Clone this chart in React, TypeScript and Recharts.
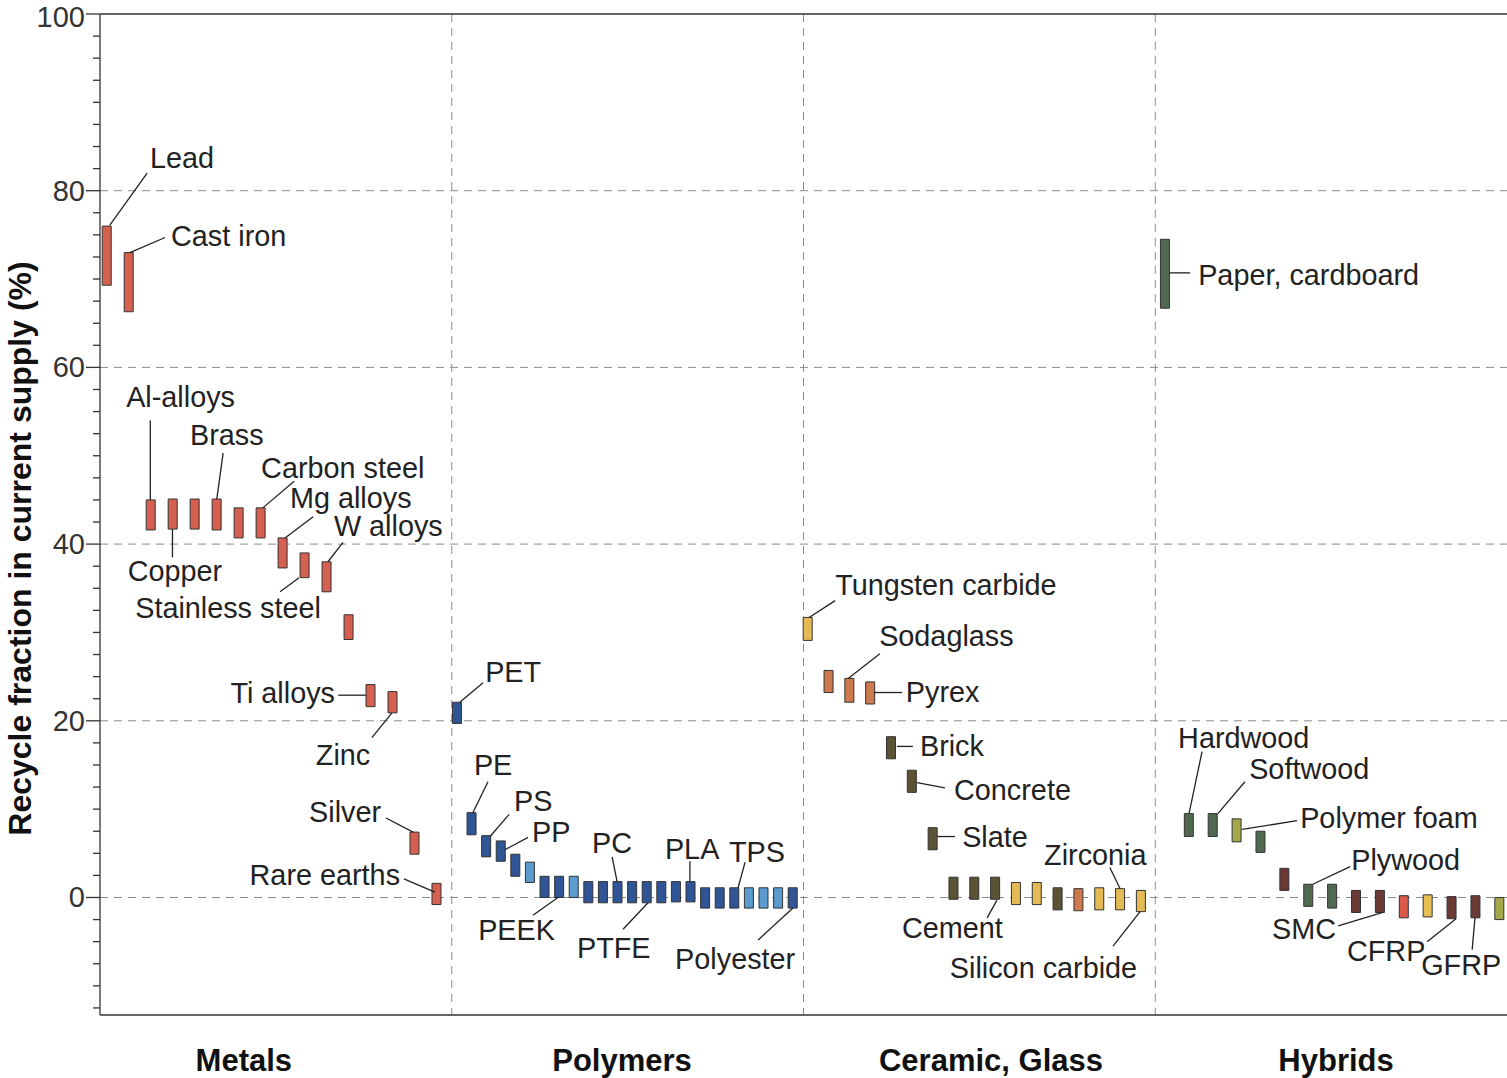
import React from 'react';
import { ComposedChart, Bar, Cell, XAxis, YAxis, CartesianGrid, ReferenceLine, ReferenceDot } from 'recharts';

const FONT = '"Liberation Sans", Arial, Helvetica, sans-serif';

// recycle fraction in current supply (%), low and high end of each bar, left to right
const metalLow = [69.3, 66.3, 41.6, 41.7, 41.7, 41.6, 40.7, 40.7, 37.3, 36.2, 34.6, 29.2, 21.6, 20.9, 4.9, -0.8];
const metalHigh = [76.0, 73.0, 45.0, 45.1, 45.1, 45.1, 44.1, 44.1, 40.7, 39.0, 38.0, 32.0, 24.1, 23.3, 7.4, 1.6];
const metalKind = ['m', 'm', 'm', 'm', 'm', 'm', 'm', 'm', 'm', 'm', 'm', 'm', 'm', 'm', 'm', 'm'];

const polymerLow = [19.7, 7.1, 4.6, 4.1, 2.4, 1.7, 0, 0, 0, -0.6, -0.6, -0.6, -0.6, -0.6, -0.6, -0.5, -0.5, -1.2, -1.2, -1.2, -1.2, -1.2, -1.2, -1.2];
const polymerHigh = [22.1, 9.6, 7.0, 6.4, 4.9, 4.0, 2.4, 2.4, 2.4, 1.8, 1.8, 1.8, 1.8, 1.8, 1.8, 1.8, 1.8, 1.1, 1.1, 1.1, 1.1, 1.1, 1.1, 1.1];
const polymerKind = ['pd', 'pd', 'pd', 'pd', 'pd', 'pl', 'pd', 'pd', 'pl', 'pd', 'pd', 'pd', 'pd', 'pd', 'pd', 'pd', 'pd', 'pd', 'pd', 'pd', 'pl', 'pl', 'pl', 'pd'];

const ceramicLow = [29.1, 23.2, 22.1, 21.9, 15.7, 11.9, 5.4, -0.2, -0.2, -0.2, -0.8, -0.8, -1.4, -1.5, -1.4, -1.4, -1.6];
const ceramicHigh = [31.7, 25.7, 24.8, 24.4, 18.2, 14.4, 7.9, 2.3, 2.3, 2.3, 1.7, 1.7, 1.1, 1.0, 1.1, 1.0, 0.8];
const ceramicKind = ['cy', 'co', 'co', 'co', 'ck', 'ck', 'ck', 'ck', 'ck', 'ck', 'cy', 'cy', 'ck', 'co', 'cy', 'cy', 'cy'];

const hybridLow = [66.7, 6.9, 6.9, 6.3, 5.1, 0.8, -1.0, -1.2, -1.7, -1.7, -2.3, -2.2, -2.4, -2.3, -2.5];
const hybridHigh = [74.5, 9.5, 9.5, 8.9, 7.5, 3.3, 1.5, 1.5, 0.8, 0.8, 0.2, 0.3, 0.1, 0.2, 0.0];
const hybridKind = ['hg', 'hg', 'hg', 'hv', 'hg', 'hb', 'hg', 'hg', 'hb', 'hb', 'hr', 'hy', 'hb', 'hb', 'hv'];

const groupNames = ['Metals', 'Polymers', 'Ceramic, Glass', 'Hybrids'];
const groupTicks = [0.409, 1.484, 2.533, 3.514];
const yTicks = [-12.5, -10, -7.5, -5, -2.5, 0, 2.5, 5, 7.5, 10, 12.5, 15, 17.5, 20, 22.5, 25, 27.5, 30, 32.5, 35, 37.5, 40,
  42.5, 45, 47.5, 50, 52.5, 55, 57.5, 60, 62.5, 65, 67.5, 70, 72.5, 75, 77.5, 80, 82.5, 85, 87.5, 90, 92.5, 95, 97.5, 100];

// label text, anchor point (x, y), text anchor, leader line x1, y1, x2, y2
const metalLabels: [string, number, number, string, number[]][] = [
  ['Lead', 0.142, 83.7, 'start', [0.028, 76.1, 0.134, 82.0]],
  ['Cast iron', 0.202, 74.9, 'start', [0.085, 73.0, 0.185, 74.7]],
  ['Al-alloys', 0.229, 56.6, 'middle', [0.143, 54.0, 0.143, 45.0]],
  ['Brass', 0.256, 52.4, 'start', [0.350, 50.3, 0.332, 45.1]],
  ['Carbon steel', 0.458, 48.6, 'start', [0.552, 47.1, 0.463, 44.1]],
  ['Mg alloys', 0.540, 45.2, 'start', [0.606, 43.1, 0.526, 40.7]],
  ['W alloys', 0.665, 42.0, 'start', [0.691, 40.2, 0.648, 38.0]],
  ['Copper', 0.213, 36.9, 'middle', [0.206, 41.7, 0.206, 38.5]],
  ['Stainless steel', 0.100, 32.8, 'start', [0.512, 34.6, 0.566, 36.2]],
  ['Ti alloys', 0.668, 23.1, 'end', [0.677, 22.9, 0.756, 22.9]],
  ['Zinc', 0.691, 16.1, 'middle', [0.773, 18.1, 0.830, 20.9]],
  ['Silver', 0.799, 9.7, 'end', [0.813, 9.0, 0.890, 7.4]],
  ['Rare earths', 0.853, 2.6, 'end', [0.864, 2.1, 0.952, 0.6]],
];
const polymerLabels: [string, number, number, string, number[]][] = [
  ['PET', 1.095, 25.5, 'start', [1.089, 24.3, 1.023, 22.1]],
  ['PE', 1.063, 15.0, 'start', [1.103, 13.1, 1.060, 9.6]],
  ['PS', 1.177, 10.9, 'start', [1.163, 9.4, 1.109, 6.9]],
  ['PP', 1.228, 7.4, 'start', [1.217, 6.8, 1.151, 5.4]],
  ['PC', 1.399, 6.2, 'start', [1.456, 4.6, 1.470, 1.8]],
  ['PLA', 1.606, 5.5, 'start', [1.677, 4.1, 1.677, 1.8]],
  ['TPS', 1.788, 5.1, 'start', [1.834, 4.0, 1.814, 1.1]],
  ['PEEK', 1.075, -3.7, 'start', [1.231, -2.0, 1.302, 0]],
  ['PTFE', 1.356, -5.7, 'start', [1.487, -3.6, 1.558, -0.6]],
  ['Polyester', 1.635, -7.0, 'start', [1.871, -4.8, 1.970, -1.2]],
];
const ceramicLabels: [string, number, number, string, number[]][] = [
  ['Tungsten carbide', 2.090, 35.4, 'start', [2.090, 33.6, 2.016, 31.7]],
  ['Sodaglass', 2.215, 29.6, 'start', [2.217, 27.6, 2.127, 24.8]],
  ['Pyrex', 2.291, 23.3, 'start', [2.200, 23.2, 2.280, 23.2]],
  ['Brick', 2.331, 17.2, 'start', [2.266, 17.1, 2.311, 17.1]],
  ['Concrete', 2.428, 12.2, 'start', [2.323, 13.0, 2.402, 12.4]],
  ['Slate', 2.451, 6.9, 'start', [2.380, 6.9, 2.431, 6.9]],
  ['Zirconia', 2.684, 4.8, 'start', [2.871, 3.4, 2.900, 1.0]],
  ['Cement', 2.280, -3.4, 'start', [2.522, -2.3, 2.550, -0.3]],
  ['Silicon carbide', 2.416, -8.0, 'start', [2.880, -5.5, 2.957, -1.6]],
];
const hybridLabels: [string, number, number, string, number[]][] = [
  ['Paper, cardboard', 3.122, 70.5, 'start', [3.042, 70.7, 3.099, 70.7]],
  ['Hardwood', 3.065, 18.1, 'start', [3.133, 16.5, 3.096, 9.5]],
  ['Softwood', 3.267, 14.5, 'start', [3.255, 13.1, 3.178, 9.5]],
  ['Polymer foam', 3.412, 9.0, 'start', [3.403, 8.7, 3.247, 7.7]],
  ['Plywood', 3.557, 4.3, 'start', [3.554, 3.5, 3.448, 1.5]],
  ['SMC', 3.332, -3.6, 'start', [3.520, -3.2, 3.645, -1.7]],
  ['CFRP', 3.545, -6.1, 'start', [3.773, -5.0, 3.855, -2.4]],
  ['GFRP', 3.756, -7.6, 'start', [3.901, -5.9, 3.909, -2.3]],
];

const kindColor: Record<string, string> = {
  m: '#d6604f',
  pd: '#2f5597',
  pl: '#5b9bcf',
  cy: '#e4ba55',
  co: '#cc7a4e',
  ck: '#5a5434',
  hg: '#4f6a50',
  hv: '#a6a64b',
  hb: '#6b3a35',
  hr: '#dc5a4a',
  hy: '#e8bf55',
};

// bar slot layout within each group (axis units)
const groups = [
  { lo: metalLow, hi: metalHigh, kind: metalKind, start: 0.0185, step: 0.0625 },
  { lo: polymerLow, hi: polymerHigh, kind: polymerKind, start: 0.0142, step: 0.0415 },
  { lo: ceramicLow, hi: ceramicHigh, kind: ceramicKind, start: 0.0114, step: 0.0592 },
  { lo: hybridLow, hi: hybridHigh, kind: hybridKind, start: 0.027, step: 0.0679 },
];

const rows = groups.flatMap((g, gi) =>
  g.lo.map((lo, i) => ({ x: gi + g.start + i * g.step, range: [lo, g.hi[i]], kind: g.kind[i] }))
);

const labels = [...metalLabels, ...polymerLabels, ...ceramicLabels, ...hybridLabels];

const YTick = (p: any) => {
  const v = p.payload.value;
  const major = v % 20 === 0;
  // the top label sits at the edge of the page, nudge it down a touch
  const ty = v === 100 ? p.y + 3 : p.y;
  return (
    <g>
      <line x1={p.x - (major ? 14 : 7)} x2={p.x} y1={p.y} y2={p.y} stroke="#333" strokeWidth={1.3} />
      {major && (
        <text x={p.x - 15} y={ty} textAnchor="end" dominantBaseline="central" fontSize={29} fill="#333" fontFamily={FONT}>
          {v}
        </text>
      )}
    </g>
  );
};

const XTick = (p: any) => {
  const idx = groupTicks.indexOf(p.payload.value);
  return (
    <text x={p.x} y={p.y + 45} textAnchor="middle" dominantBaseline="central" fontSize={31} fontWeight="bold" fill="#111" fontFamily={FONT}>
      {groupNames[idx]}
    </text>
  );
};

const YLabel = (p: any) => {
  const vb = p.viewBox || { x: 0, y: 14, width: 100, height: 1001 };
  const cx = vb.x + 20;
  const cy = vb.y + vb.height / 2 + 34;
  return (
    <text x={cx} y={cy} transform={`rotate(-90 ${cx} ${cy})`} textAnchor="middle" dominantBaseline="central" fontSize={32} fontWeight="bold" fill="#111" fontFamily={FONT}>
      Recycle fraction in current supply (%)
    </text>
  );
};

export default function App() {
  return (
    <div style={{ position: 'absolute', left: 0, top: 0, width: 1507, height: 1078, background: '#fff' }}>
      <ComposedChart width={1507} height={1078} data={rows} margin={{ top: 14, right: 0, bottom: 0, left: 0 }} style={{ fontFamily: FONT }}>
        <CartesianGrid horizontalValues={[0, 20, 40, 60, 80]} verticalValues={[1, 2, 3]} strokeDasharray="8 6" stroke="#8c8c8c" />
        <XAxis type="number" dataKey="x" domain={[0, 4]} ticks={groupTicks} interval={0} tickSize={0} tickMargin={0}
          height={63} axisLine={{ stroke: '#333', strokeWidth: 1.3 }} tick={XTick} allowDataOverflow />
        <YAxis type="number" domain={[-13.3, 100]} ticks={yTicks} interval={0} width={100} tickSize={0} tickMargin={0}
          axisLine={{ stroke: '#333', strokeWidth: 1.3 }} tick={YTick} allowDataOverflow label={{ content: YLabel }} />
        <ReferenceLine y={100} stroke="#333" strokeWidth={1.3} />
        <Bar dataKey="range" barSize={9} isAnimationActive={false} stroke="#333" strokeWidth={1}>
          {rows.map((r, i) => (
            <Cell key={i} fill={kindColor[r.kind]} />
          ))}
        </Bar>
        {labels.map((l, i) => (
          <ReferenceLine key={'ln' + i} segment={[{ x: l[4][0], y: l[4][1] }, { x: l[4][2], y: l[4][3] }]}
            stroke="#222" strokeWidth={1.3} ifOverflow="visible" />
        ))}
        {labels.map((l, i) => (
          <ReferenceDot key={'tx' + i} x={l[1]} y={l[2]} r={0} ifOverflow="visible"
            shape={(p: any) => (
              <text x={p.cx} y={p.cy} textAnchor={l[3] as any} dominantBaseline="central" fontSize={28.8} fill="#222" fontFamily={FONT}>
                {l[0]}
              </text>
            )} />
        ))}
      </ComposedChart>
    </div>
  );
}
